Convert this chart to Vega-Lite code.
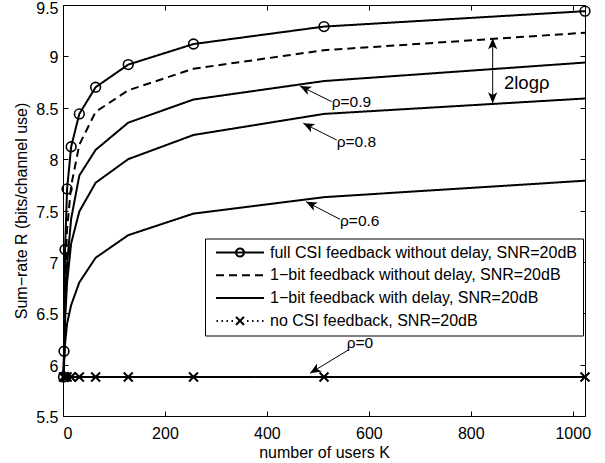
{
  "$schema": "https://vega.github.io/schema/vega-lite/v6.json",
  "width": 522,
  "height": 411,
  "autosize": {"type": "none"},
  "padding": {"left": 63, "top": 5, "right": 20, "bottom": 47},
  "background": "white",
  "datasets": {
    "curves": [
      {"K":1,"R":5.88,"scheme":"full CSI feedback without delay, SNR=20dB","curve":"full"},
      {"K":2,"R":6.13,"scheme":"full CSI feedback without delay, SNR=20dB","curve":"full"},
      {"K":4,"R":7.12,"scheme":"full CSI feedback without delay, SNR=20dB","curve":"full"},
      {"K":8,"R":7.71,"scheme":"full CSI feedback without delay, SNR=20dB","curve":"full"},
      {"K":16,"R":8.12,"scheme":"full CSI feedback without delay, SNR=20dB","curve":"full"},
      {"K":32,"R":8.44,"scheme":"full CSI feedback without delay, SNR=20dB","curve":"full"},
      {"K":64,"R":8.70,"scheme":"full CSI feedback without delay, SNR=20dB","curve":"full"},
      {"K":128,"R":8.92,"scheme":"full CSI feedback without delay, SNR=20dB","curve":"full"},
      {"K":256,"R":9.12,"scheme":"full CSI feedback without delay, SNR=20dB","curve":"full"},
      {"K":512,"R":9.29,"scheme":"full CSI feedback without delay, SNR=20dB","curve":"full"},
      {"K":1024,"R":9.44,"scheme":"full CSI feedback without delay, SNR=20dB","curve":"full"},
      {"K":1,"R":5.88,"scheme":"1−bit feedback without delay, SNR=20dB","curve":"nodelay"},
      {"K":2,"R":6.08,"scheme":"1−bit feedback without delay, SNR=20dB","curve":"nodelay"},
      {"K":4,"R":6.80,"scheme":"1−bit feedback without delay, SNR=20dB","curve":"nodelay"},
      {"K":8,"R":7.32,"scheme":"1−bit feedback without delay, SNR=20dB","curve":"nodelay"},
      {"K":16,"R":7.74,"scheme":"1−bit feedback without delay, SNR=20dB","curve":"nodelay"},
      {"K":32,"R":8.14,"scheme":"1−bit feedback without delay, SNR=20dB","curve":"nodelay"},
      {"K":64,"R":8.46,"scheme":"1−bit feedback without delay, SNR=20dB","curve":"nodelay"},
      {"K":128,"R":8.67,"scheme":"1−bit feedback without delay, SNR=20dB","curve":"nodelay"},
      {"K":256,"R":8.88,"scheme":"1−bit feedback without delay, SNR=20dB","curve":"nodelay"},
      {"K":512,"R":9.06,"scheme":"1−bit feedback without delay, SNR=20dB","curve":"nodelay"},
      {"K":1024,"R":9.23,"scheme":"1−bit feedback without delay, SNR=20dB","curve":"nodelay"},
      {"K":1,"R":5.88,"scheme":"1−bit feedback with delay, SNR=20dB","curve":"rho0.9"},
      {"K":2,"R":6.06,"scheme":"1−bit feedback with delay, SNR=20dB","curve":"rho0.9"},
      {"K":4,"R":6.55,"scheme":"1−bit feedback with delay, SNR=20dB","curve":"rho0.9"},
      {"K":8,"R":6.98,"scheme":"1−bit feedback with delay, SNR=20dB","curve":"rho0.9"},
      {"K":16,"R":7.42,"scheme":"1−bit feedback with delay, SNR=20dB","curve":"rho0.9"},
      {"K":32,"R":7.84,"scheme":"1−bit feedback with delay, SNR=20dB","curve":"rho0.9"},
      {"K":64,"R":8.09,"scheme":"1−bit feedback with delay, SNR=20dB","curve":"rho0.9"},
      {"K":128,"R":8.355,"scheme":"1−bit feedback with delay, SNR=20dB","curve":"rho0.9"},
      {"K":256,"R":8.58,"scheme":"1−bit feedback with delay, SNR=20dB","curve":"rho0.9"},
      {"K":512,"R":8.76,"scheme":"1−bit feedback with delay, SNR=20dB","curve":"rho0.9"},
      {"K":1024,"R":8.94,"scheme":"1−bit feedback with delay, SNR=20dB","curve":"rho0.9"},
      {"K":1,"R":5.88,"scheme":"1−bit feedback with delay, SNR=20dB","curve":"rho0.8"},
      {"K":2,"R":6.04,"scheme":"1−bit feedback with delay, SNR=20dB","curve":"rho0.8"},
      {"K":4,"R":6.42,"scheme":"1−bit feedback with delay, SNR=20dB","curve":"rho0.8"},
      {"K":8,"R":6.80,"scheme":"1−bit feedback with delay, SNR=20dB","curve":"rho0.8"},
      {"K":16,"R":7.18,"scheme":"1−bit feedback with delay, SNR=20dB","curve":"rho0.8"},
      {"K":32,"R":7.49,"scheme":"1−bit feedback with delay, SNR=20dB","curve":"rho0.8"},
      {"K":64,"R":7.77,"scheme":"1−bit feedback with delay, SNR=20dB","curve":"rho0.8"},
      {"K":128,"R":8.00,"scheme":"1−bit feedback with delay, SNR=20dB","curve":"rho0.8"},
      {"K":256,"R":8.235,"scheme":"1−bit feedback with delay, SNR=20dB","curve":"rho0.8"},
      {"K":512,"R":8.44,"scheme":"1−bit feedback with delay, SNR=20dB","curve":"rho0.8"},
      {"K":1024,"R":8.59,"scheme":"1−bit feedback with delay, SNR=20dB","curve":"rho0.8"},
      {"K":1,"R":5.88,"scheme":"1−bit feedback with delay, SNR=20dB","curve":"rho0.6"},
      {"K":2,"R":6.00,"scheme":"1−bit feedback with delay, SNR=20dB","curve":"rho0.6"},
      {"K":4,"R":6.20,"scheme":"1−bit feedback with delay, SNR=20dB","curve":"rho0.6"},
      {"K":8,"R":6.40,"scheme":"1−bit feedback with delay, SNR=20dB","curve":"rho0.6"},
      {"K":16,"R":6.58,"scheme":"1−bit feedback with delay, SNR=20dB","curve":"rho0.6"},
      {"K":32,"R":6.80,"scheme":"1−bit feedback with delay, SNR=20dB","curve":"rho0.6"},
      {"K":64,"R":7.04,"scheme":"1−bit feedback with delay, SNR=20dB","curve":"rho0.6"},
      {"K":128,"R":7.26,"scheme":"1−bit feedback with delay, SNR=20dB","curve":"rho0.6"},
      {"K":256,"R":7.47,"scheme":"1−bit feedback with delay, SNR=20dB","curve":"rho0.6"},
      {"K":512,"R":7.63,"scheme":"1−bit feedback with delay, SNR=20dB","curve":"rho0.6"},
      {"K":1024,"R":7.79,"scheme":"1−bit feedback with delay, SNR=20dB","curve":"rho0.6"},
      {"K":1,"R":5.88,"scheme":"no CSI feedback, SNR=20dB","curve":"nocsi"},
      {"K":2,"R":5.88,"scheme":"no CSI feedback, SNR=20dB","curve":"nocsi"},
      {"K":4,"R":5.88,"scheme":"no CSI feedback, SNR=20dB","curve":"nocsi"},
      {"K":8,"R":5.88,"scheme":"no CSI feedback, SNR=20dB","curve":"nocsi"},
      {"K":16,"R":5.88,"scheme":"no CSI feedback, SNR=20dB","curve":"nocsi"},
      {"K":32,"R":5.88,"scheme":"no CSI feedback, SNR=20dB","curve":"nocsi"},
      {"K":64,"R":5.88,"scheme":"no CSI feedback, SNR=20dB","curve":"nocsi"},
      {"K":128,"R":5.88,"scheme":"no CSI feedback, SNR=20dB","curve":"nocsi"},
      {"K":256,"R":5.88,"scheme":"no CSI feedback, SNR=20dB","curve":"nocsi"},
      {"K":512,"R":5.88,"scheme":"no CSI feedback, SNR=20dB","curve":"nocsi"},
      {"K":1024,"R":5.88,"scheme":"no CSI feedback, SNR=20dB","curve":"nocsi"}
    ],
    "ann": [
      {"label":"ρ=0.9","x":527,"y":8.56},
      {"label":"ρ=0.8","x":537,"y":8.17},
      {"label":"ρ=0.6","x":543.5,"y":7.40},
      {"label":"ρ=0","x":556.5,"y":6.207},
      {"label":"2logρ","x":865,"y":8.744}
    ],
    "arrows": [
      {"id":"r09","x":527.1,"y":8.559,"x2":464.9,"y2":8.712},
      {"id":"r08","x":536.8,"y":8.186,"x2":471.4,"y2":8.349},
      {"id":"r06","x":543.5,"y":7.414,"x2":476.7,"y2":7.586},
      {"id":"r0","x":559.5,"y":6.142,"x2":484.5,"y2":5.916},
      {"id":"up","x":842.9,"y":8.86,"x2":842.9,"y2":9.176},
      {"id":"down","x":842.9,"y":8.86,"x2":842.9,"y2":8.543}
    ]
  },
  "resolve": {"axis": {"x": "independent", "y": "independent"}},
  "layer": [
    {
      "data": {"name": "curves"},
      "mark": {"type": "line", "color": "black", "strokeWidth": 2},
      "encoding": {
        "x": {"field": "K", "type": "quantitative",
          "scale": {"domain": [0, 1024], "nice": false, "zero": false},
          "axis": {"title": "number of users K", "values": [0,200,400,600,800,1000], "format": "d", "labelPadding": 14, "titlePadding": 3}},
        "y": {"field": "R", "type": "quantitative",
          "scale": {"domain": [5.5, 9.5], "nice": false, "zero": false},
          "axis": {"title": "Sum−rate R (bits/channel use)", "values": [5.5,6,6.5,7,7.5,8,8.5,9,9.5], "format": ".1~f", "labelPadding": 10,
            "labelOffset": {"condition": {"test": "datum.value >= 9.5", "value": 3.5}, "value": 1.5},
            "titlePadding": 6}},
        "detail": {"field": "curve"},
        "strokeDash": {"field": "scheme", "type": "nominal",
          "scale": {
            "domain": ["full CSI feedback without delay, SNR=20dB", "1−bit feedback without delay, SNR=20dB", "1−bit feedback with delay, SNR=20dB", "no CSI feedback, SNR=20dB"],
            "range": [[1,0],[8,5],[1,0],[1,0]]
          },
          "legend": {
            "title": null,
            "orient": "none",
            "legendX": 142,
            "legendY": 233.5,
            "padding": 6,
            "fillColor": "white",
            "strokeColor": "black",
            "symbolSize": 100,
            "symbolOffset": 21,
            "labelOffset": 22,
            "rowPadding": 6.8,
            "labelLimit": 0,
            "labelFont": "Liberation Sans",
            "labelFontSize": 16,
            "labelColor": "black",
            "symbolStrokeColor": "black",
            "symbolStrokeWidth": 2,
            "encode": {
              "symbols": {
                "update": {
                  "fill": {"value": "transparent"},
                  "stroke": {"value": "black"},
                  "shape": {"signal": "datum.value === 'full CSI feedback without delay, SNR=20dB' ? 'M-4.8,0H4.8M0.8,0A0.8,0.8,0,1,1,-0.8,0A0.8,0.8,0,1,1,0.8,0' : datum.value === 'no CSI feedback, SNR=20dB' ? 'M-4.7,0H-4.4M-3.7,0H-3.4M-2.7,0H-2.4M-1.7,0H-1.4M1.4,0H1.7M2.4,0H2.7M3.4,0H3.7M4.4,0H4.7M-0.8,-0.8L0.8,0.8M-0.8,0.8L0.8,-0.8' : 'M-4.8,0H4.8'"}
                }
              }
            }
          }
        }
      }
    },
    {
      "data": {"name": "curves"},
      "transform": [{"filter": "datum.curve === 'full'"}],
      "mark": {"type": "point", "shape": "circle", "size": 95, "filled": false, "color": "black", "strokeWidth": 1.6, "opacity": 1},
      "encoding": {
        "x": {"field": "K", "type": "quantitative", "axis": null},
        "y": {"field": "R", "type": "quantitative", "axis": null}
      }
    },
    {
      "data": {"name": "curves"},
      "transform": [{"filter": "datum.curve === 'nocsi'"}],
      "mark": {"type": "point", "shape": "M-1,-1L1,1M-1,1L1,-1", "size": 80, "filled": false, "color": "black", "strokeWidth": 2, "opacity": 1},
      "encoding": {
        "x": {"field": "K", "type": "quantitative", "axis": null},
        "y": {"field": "R", "type": "quantitative", "axis": null}
      }
    },
    {
      "data": {"name": "arrows"},
      "mark": {"type": "rule", "color": "black", "strokeWidth": 1},
      "encoding": {
        "x": {"field": "x", "type": "quantitative", "axis": null},
        "y": {"field": "y", "type": "quantitative", "axis": null},
        "x2": {"field": "x2"},
        "y2": {"field": "y2"}
      }
    },
    {
      "data": {"name": "arrows"},
      "transform": [{"filter": "datum.id === 'r09' || datum.id === 'r08' || datum.id === 'r06'"}],
      "mark": {"type": "point", "shape": "M0,0L0.42,1L0,0.75L-0.42,1Z", "size": 484, "filled": true, "color": "black", "opacity": 1, "angle": 296.4},
      "encoding": {
        "x": {"field": "x2", "type": "quantitative", "axis": null},
        "y": {"field": "y2", "type": "quantitative", "axis": null}
      }
    },
    {
      "data": {"name": "arrows"},
      "transform": [{"filter": "datum.id === 'r0'"}],
      "mark": {"type": "point", "shape": "M0,0L0.42,1L0,0.75L-0.42,1Z", "size": 484, "filled": true, "color": "black", "opacity": 1, "angle": 238.7},
      "encoding": {
        "x": {"field": "x2", "type": "quantitative", "axis": null},
        "y": {"field": "y2", "type": "quantitative", "axis": null}
      }
    },
    {
      "data": {"name": "arrows"},
      "transform": [{"filter": "datum.id === 'up'"}],
      "mark": {"type": "point", "shape": "M0,0L0.42,1L0,0.75L-0.42,1Z", "size": 484, "filled": true, "color": "black", "opacity": 1, "angle": 0},
      "encoding": {
        "x": {"field": "x2", "type": "quantitative", "axis": null},
        "y": {"field": "y2", "type": "quantitative", "axis": null}
      }
    },
    {
      "data": {"name": "arrows"},
      "transform": [{"filter": "datum.id === 'down'"}],
      "mark": {"type": "point", "shape": "M0,0L0.42,1L0,0.75L-0.42,1Z", "size": 484, "filled": true, "color": "black", "opacity": 1, "angle": 180},
      "encoding": {
        "x": {"field": "x2", "type": "quantitative", "axis": null},
        "y": {"field": "y2", "type": "quantitative", "axis": null}
      }
    },
    {
      "data": {"name": "ann"},
      "transform": [{"filter": "datum.label !== '2logρ'"}],
      "mark": {"type": "text", "align": "left", "baseline": "middle", "font": "Liberation Sans", "fontSize": 15.5, "color": "black"},
      "encoding": {
        "x": {"field": "x", "type": "quantitative", "axis": null},
        "y": {"field": "y", "type": "quantitative", "axis": null},
        "text": {"field": "label"}
      }
    },
    {
      "data": {"name": "ann"},
      "transform": [{"filter": "datum.label === '2logρ'"}],
      "mark": {"type": "text", "align": "left", "baseline": "middle", "font": "Liberation Sans", "fontSize": 18.5, "color": "black"},
      "encoding": {
        "x": {"field": "x", "type": "quantitative", "axis": null},
        "y": {"field": "y", "type": "quantitative", "axis": null},
        "text": {"field": "label"}
      }
    },
    {
      "data": {"name": "curves"},
      "mark": {"type": "point", "opacity": 0},
      "encoding": {
        "x": {"field": "K", "type": "quantitative",
          "axis": {"orient": "top", "labels": false, "title": null, "values": [0,200,400,600,800,1000]}},
        "y": {"field": "R", "type": "quantitative",
          "axis": {"orient": "right", "labels": false, "title": null, "values": [5.5,6,6.5,7,7.5,8,8.5,9,9.5]}}
      }
    }
  ],
  "config": {
    "view": {"stroke": "black", "strokeWidth": 1},
    "axis": {
      "domain": false,
      "grid": false,
      "ticks": true,
      "tickColor": "black",
      "tickSize": -5,
      "tickWidth": 1,
      "labelFont": "Liberation Sans",
      "labelFontSize": 16,
      "labelColor": "black",
      "titleFont": "Liberation Sans",
      "titleFontSize": 16,
      "titleFontWeight": "normal",
      "titleColor": "black"
    }
  }
}
